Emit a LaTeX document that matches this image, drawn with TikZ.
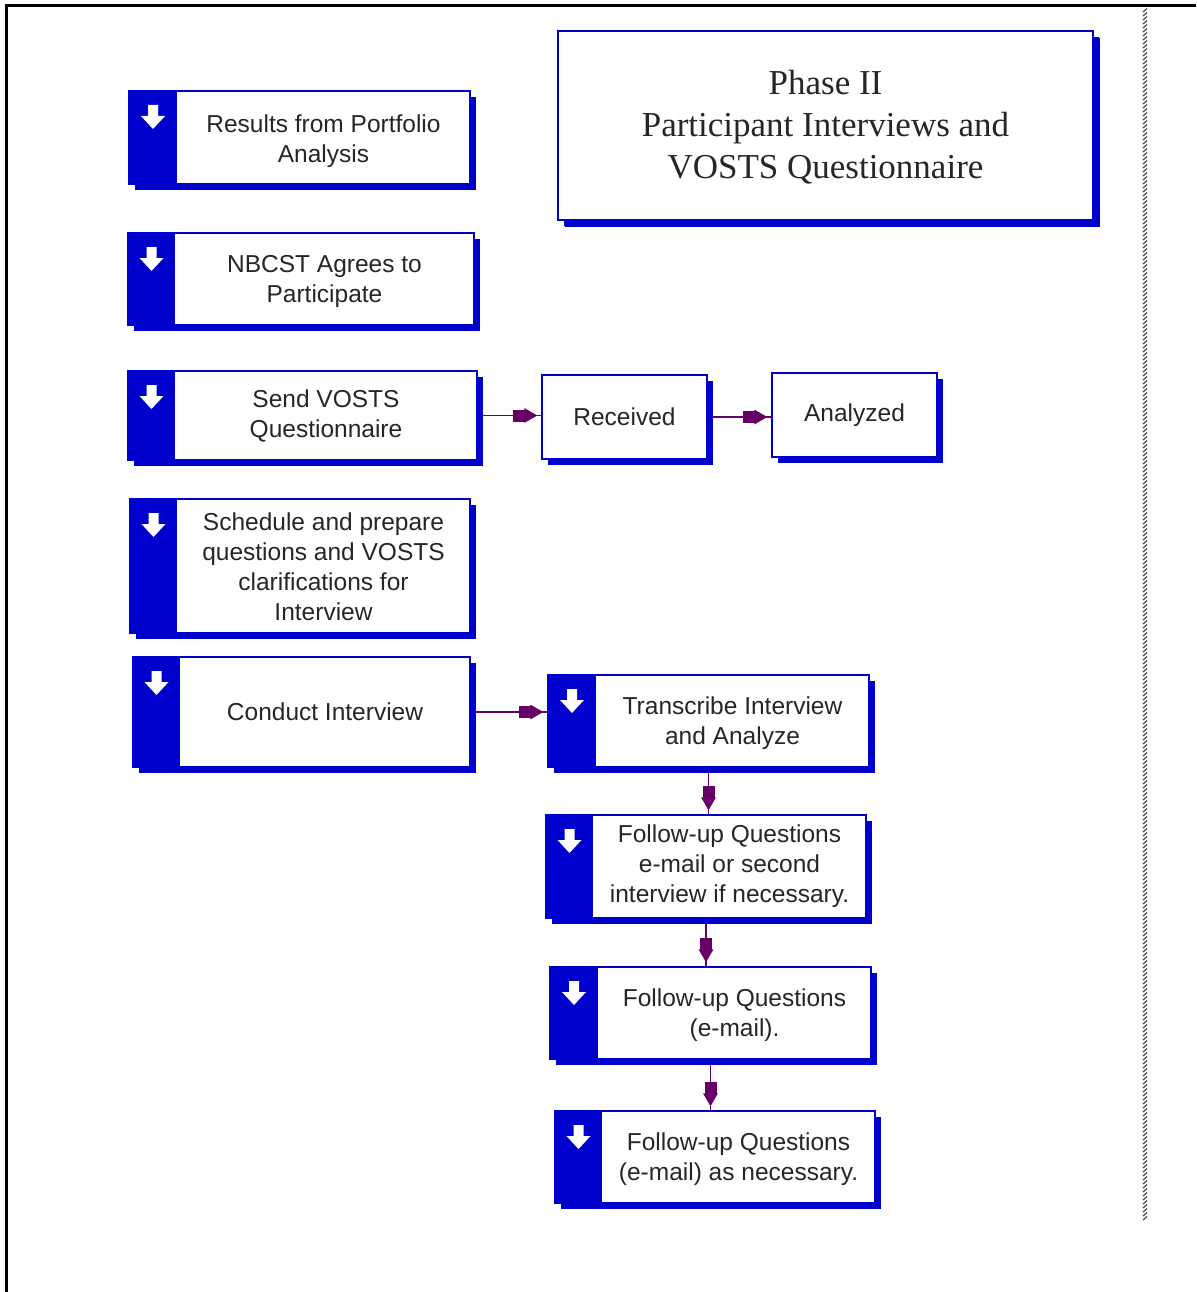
\documentclass[tikz,border=0pt]{standalone}
\usepackage{fontspec}
\setmainfont{Liberation Sans}
\newfontfamily\titlefont{Liberation Serif}
\usetikzlibrary{shadows,decorations.markings,backgrounds}
\definecolor{bblue}{RGB}{0,0,204}
\definecolor{arrpurple}{RGB}{102,0,102}
\newcommand\lowertext[2]{\raisebox{-#1}[\height][\depth]{#2}}
\tikzset{
  box/.style={draw=bblue, line width=1.5pt, fill=white, inner sep=0pt,
    drop shadow={shadow xshift=6pt, shadow yshift=-6pt, fill=bblue, opacity=1},
    font=\fontsize{24.5}{30}\selectfont, text=black!85},
  strip/.style={path picture={
    \fill[bblue] (path picture bounding box.north west) rectangle ([xshift=#1pt]path picture bounding box.south west);
    \fill[white] ([xshift=#1/2*1pt, yshift=-14pt]path picture bounding box.north west)
      ++(-5pt,0pt) -- ++(0pt,-11pt) -- ++(-7pt,0pt) -- ++(12pt,-13pt) -- ++(12pt,13pt) -- ++(-7pt,0pt) -- ++(0pt,11pt) -- cycle;
  }},
  flow/.style={draw=arrpurple, line width=1.8pt, postaction={decorate},
    decoration={markings, mark=at position -4pt with {
      \fill[arrpurple] (-24pt,-6pt) rectangle (-12pt,6pt);
      \fill[arrpurple] (-13pt,-7.5pt) -- (0pt,0pt) -- (-13pt,7.5pt) -- cycle;}}},
  slash/.style={draw=gray!60!black, line width=1.2pt},
  frame/.style={draw=black, line width=3pt}
}
\begin{document}
\begin{tikzpicture}[x=1pt,y=-1pt]
\useasboundingbox (0,0) rectangle (1196,1292);
\draw[frame] (4.5,6) -- (1196,6);
\draw[frame] (6,4.5) -- (6,1292);
\foreach \yy in {10,14,...,1218} \draw[slash] (1143,\yy+2) -- (1147,\yy-1.5);

\node[box, minimum width=535pt, minimum height=189pt,
  drop shadow={shadow xshift=7pt, shadow yshift=-7pt, fill=bblue, opacity=1},
  font=\titlefont\fontsize{35}{42}\selectfont] (title) at (825.5,125.5)
  {\lowertext{2pt}{\parbox{520pt}{\centering Phase II\\Participant Interviews and\\VOSTS Questionnaire}}};

\node[box, strip=48, minimum width=341pt, minimum height=93pt] (results) at (299.5,137.5)
  {\hspace*{48pt}\lowertext{4pt}{\parbox{293pt}{\centering Results from Portfolio\\Analysis}}};
\node[box, strip=47, minimum width=346pt, minimum height=92pt] (nbcst) at (301,279)
  {\hspace*{47pt}\lowertext{2pt}{\parbox{299pt}{\centering NBCST Agrees to\\Participate}}};
\node[box, strip=47, minimum width=349pt, minimum height=89pt] (send) at (302.5,415.5)
  {\hspace*{47pt}\parbox{302pt}{\centering Send VOSTS\\Questionnaire}};
\node[box, minimum width=165pt, minimum height=84pt] (rec) at (624.5,417) {Received};
\node[box, minimum width=165pt, minimum height=84pt] (ana) at (854.5,415) {Analyzed};
\node[box, strip=47, minimum width=340pt, minimum height=134pt] (sched) at (300,566)
  {\hspace*{47pt}\lowertext{1pt}{\parbox{293pt}{\centering Schedule and prepare\\questions and VOSTS\\clarifications for\\Interview}}};
\node[box, strip=47, minimum width=337pt, minimum height=110pt] (conduct) at (301.5,712)
  {\hspace*{47pt}\parbox{290pt}{\centering Conduct Interview}};
\node[box, strip=48, minimum width=321pt, minimum height=92pt] (trans) at (708.5,721)
  {\hspace*{48pt}\lowertext{2pt}{\parbox{273pt}{\centering Transcribe Interview\\and Analyze}}};
\node[box, strip=47, minimum width=320pt, minimum height=103pt] (fu1) at (706,866.5)
  {\hspace*{47pt}\parbox{273pt}{\centering Follow-up Questions\\e-mail or second\\interview if necessary.}};
\node[box, strip=48, minimum width=321pt, minimum height=92pt] (fu2) at (710.5,1013)
  {\hspace*{48pt}\lowertext{2pt}{\parbox{273pt}{\centering Follow-up Questions\\(e-mail).}}};
\node[box, strip=47, minimum width=320pt, minimum height=92pt] (fu3) at (715,1157)
  {\hspace*{47pt}\lowertext{2pt}{\parbox{273pt}{\centering Follow-up Questions\\(e-mail) as necessary.}}};

\begin{scope}[on background layer]
\draw[flow] (send.east) -- (send.east -| rec.west);
\draw[flow] (rec.east) -- (rec.east -| ana.west);
\draw[flow] (conduct.east) -- (conduct.east -| trans.west);
\draw[flow] (trans.south) -- (trans.south |- fu1.north);
\draw[flow] (fu1.south) -- (fu1.south |- fu2.north);
\draw[flow] (fu2.south) -- (fu2.south |- fu3.north);
\end{scope}
\end{tikzpicture}
\end{document}
